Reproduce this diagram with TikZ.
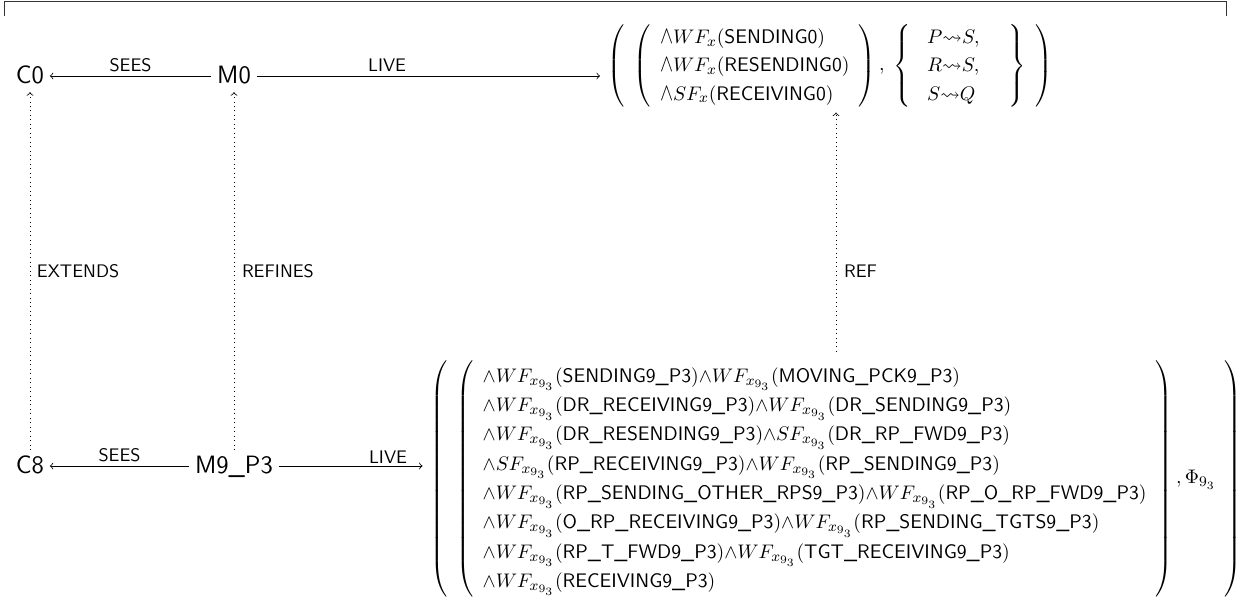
\RequirePackage{fix-cm}
\documentclass[tikz,border=0pt]{standalone}
\usepackage{amsmath,amssymb}
\usetikzlibrary{arrows}
\DeclareMathSizes{10.8}{10.8}{8.1}{6.2}
\newcommand{\twedge}{\mathord{\scalebox{1}[1.25]{$\wedge$}}}
\begin{document}
\begin{tikzpicture}[x=0.55pt,y=-0.55pt,font=\sffamily,
  mnode/.style={font=\fontsize{13.8}{16}\selectfont\sffamily,text height=9.8pt,text depth=1.6pt,inner sep=3pt},
  lbl/.style={font=\sffamily\normalsize,inner sep=2pt},
  rel/.style={->,>=to,line width=0.45pt},
  refarr/.style={->,>=to,dotted,line width=0.45pt},
  formula/.style={font=\fontsize{10.8}{13}\selectfont\sffamily,inner xsep=4pt,inner ysep=2pt}]
\useasboundingbox (0,0) rectangle (1248,610);
\draw[line width=0.5pt,black!80] (4,16) -- (4,1.5) -- (1226,1.5) -- (1226,16);
% top row
\node[mnode] (c0) at (30,76) {C0};
\node[mnode] (m0) at (234,76) {M0};
\node[formula] (tf) at (830,66) {\setlength\arraycolsep{5pt}\renewcommand\arraystretch{1.2}$\displaystyle
\left(\begin{array}{l}\left(\begin{array}{l}
\twedge WF_x(\textsf{SENDING0})\\
\twedge WF_x(\textsf{RESENDING0})\\
\twedge SF_x(\textsf{RECEIVING0})
\end{array}\right),\;\left\{\begin{array}{@{\hspace{9pt}}l@{\hspace{16pt}}}
P{\leadsto}S,\\ R{\leadsto}S,\\ S{\leadsto}Q
\end{array}\right\}\end{array}\right)$};
% bottom row
\node[mnode] (c8) at (30,466) {C8};
\node[mnode] (m9) at (234,466) {M9\_P3};
\node[formula,inner ysep=5pt] (bf) at (836,479) {\setlength\arraycolsep{5pt}\renewcommand\arraystretch{1.24}$\displaystyle
\left(\begin{array}{l}\left(\begin{array}{l}
{\wedge} WF_{x_{9_3}}(\textsf{SENDING9\_P3}){\wedge} WF_{x_{9_3}}(\textsf{MOVING\_PCK9\_P3})\\
{\wedge} WF_{x_{9_3}}(\textsf{DR\_RECEIVING9\_P3}){\wedge} WF_{x_{9_3}}(\textsf{DR\_SENDING9\_P3})\\
{\wedge} WF_{x_{9_3}}(\textsf{DR\_RESENDING9\_P3}){\wedge} SF_{x_{9_3}}(\textsf{DR\_RP\_FWD9\_P3})\\
{\wedge} SF_{x_{9_3}}(\textsf{RP\_RECEIVING9\_P3}){\wedge} WF_{x_{9_3}}(\textsf{RP\_SENDING9\_P3})\\
{\wedge} WF_{x_{9_3}}(\textsf{RP\_SENDING\_OTHER\_RPS9\_P3}){\wedge} WF_{x_{9_3}}(\textsf{RP\_O\_RP\_FWD9\_P3})\\
{\wedge} WF_{x_{9_3}}(\textsf{O\_RP\_RECEIVING9\_P3}){\wedge} WF_{x_{9_3}}(\textsf{RP\_SENDING\_TGTS9\_P3})\\
{\wedge} WF_{x_{9_3}}(\textsf{RP\_T\_FWD9\_P3}){\wedge} WF_{x_{9_3}}(\textsf{TGT\_RECEIVING9\_P3})\\
{\wedge} WF_{x_{9_3}}(\textsf{RECEIVING9\_P3})
\end{array}\right),\Phi_{9_3}\end{array}\right)$};
% horizontal relations
\draw[rel] (m0) -- node[lbl,above] {SEES} (c0);
\draw[rel] (m0) -- node[lbl,above,pos=0.38] {LIVE} (m0 -| tf.west);
\draw[rel] (m9) -- node[lbl,above] {SEES} (c8);
\draw[rel] (m9) -- node[lbl,above,pos=0.76,inner sep=1pt] {LIVE} (m9 -| bf.west);
% vertical relations
\draw[refarr] (c8) -- (c0);
\draw[refarr] (m9) -- (m0);
\draw[refarr] (bf.north) -- (bf.north |- tf.south);
\node[lbl,anchor=west] (lext) at (33,271) {EXTENDS};
\node[lbl,anchor=west] (lref) at (238,271) {REFINES};
\node[lbl,anchor=west] (lrf) at (840,271) {REF};
\end{tikzpicture}
\end{document}
